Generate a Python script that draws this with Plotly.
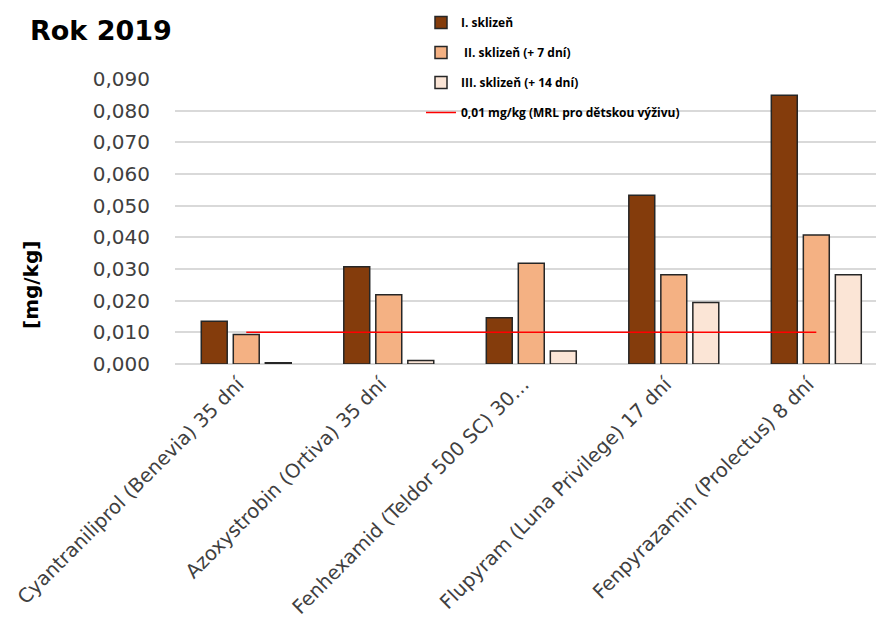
import plotly.graph_objects as go

categories = [
    "Cyantraniliprol (Benevia) 35 dní",
    "Azoxystrobin (Ortiva) 35 dní",
    "Fenhexamid (Teldor 500 SC) 30…",
    "Flupyram (Luna Privilege) 17 dní",
    "Fenpyrazamin (Prolectus) 8 dní",
]
harvest_1 = [0.0135, 0.0307, 0.0146, 0.0533, 0.0849]
harvest_2 = [0.0093, 0.0219, 0.0318, 0.0282, 0.0407]
harvest_3 = [0.0004, 0.0011, 0.0041, 0.0194, 0.0282]
mrl = [0.01, 0.01, 0.01, 0.01, 0.01]

series_names = [
    "I. sklizeň",
    " II. sklizeň (+ 7 dní)",
    "III. sklizeň (+ 14 dní)",
    "0,01 mg/kg (MRL pro dětskou výživu)",
]
colors = ["#843C0C", "#F4B183", "#FBE5D6"]
tick_vals = [0, 0.01, 0.02, 0.03, 0.04, 0.05, 0.06, 0.07, 0.08, 0.09]

fig = go.Figure()
for i, (name, vals, col) in enumerate(zip(series_names[:3], [harvest_1, harvest_2, harvest_3], colors)):
    fig.add_trace(go.Bar(
        x=categories, y=vals, name="<b>" + name + "</b>", legendgroup="g%d" % i,
        marker=dict(color=col, line=dict(color="#262626", width=1.5)),
    ))
fig.add_trace(go.Scatter(
    x=categories, y=mrl, name="<b>" + series_names[3] + "</b>", mode="lines",
    legendgroup="g3",
    line=dict(color="#FF0000", width=1.5),
))

# page has an 8px body margin; figure coordinates = page coordinates - 8
OFF = 8
PL, PT, PW, PH = 175 - OFF, 79 - OFF, 709, 285

fig.update_layout(
    width=884 - OFF, height=628 - OFF,
    margin=dict(l=PL, r=0, t=PT, b=(628 - OFF) - (PT + PH), autoexpand=False),
    paper_bgcolor="white", plot_bgcolor="white",
    separators=", ",
    barmode="group", bargap=0.326, bargroupgap=0.19,
    showlegend=True,
    legend=dict(
        x=(421 - OFF - PL) / PW, y=1 + (PT - 0) / PH, xanchor="left", yanchor="top",
        font=dict(family="Open Sans, sans-serif", size=12, color="#000000"),
        bgcolor="rgba(0,0,0,0)", tracegroupgap=11, itemwidth=30,
        traceorder="grouped",
    ),
    xaxis=dict(
        type="category", range=[-0.5, 4.475], automargin=False,
        tickangle=-45, showgrid=False, showline=False, ticks="",
        ticklabelstandoff=4, ticklabelshift=-8,
        tickfont=dict(family="DejaVu Sans, sans-serif", size=19.5, color="#404040"),
    ),
    yaxis=dict(
        range=[0, 0.09], tickvals=tick_vals, tickformat=".3f", automargin=False,
        showgrid=True, gridcolor="#D9D9D9", gridwidth=1.5,
        zeroline=True, zerolinecolor="#D9D9D9", zerolinewidth=1.5,
        showline=False, ticks="", ticklabelstandoff=24,
        tickfont=dict(family="DejaVu Sans, sans-serif", size=20, color="#404040"),
    ),
)
fig.add_annotation(
    text="<b>Rok 2019</b>", xref="paper", yref="paper",
    x=(28 - OFF - PL) / PW, y=1 + (PT - (31 - OFF)) / PH, xanchor="left", yanchor="middle",
    showarrow=False,
    font=dict(family="DejaVu Sans, sans-serif", size=27, color="#000000"),
)
fig.add_annotation(
    text="<b>[mg/kg]</b>", xref="paper", yref="paper",
    x=(31 - OFF - PL) / PW, y=(PT + PH - (285 - OFF)) / PH, xanchor="center", yanchor="middle",
    textangle=-90, showarrow=False,
    font=dict(family="DejaVu Sans, sans-serif", size=20, color="#000000"),
)

fig.write_html("out.html")
